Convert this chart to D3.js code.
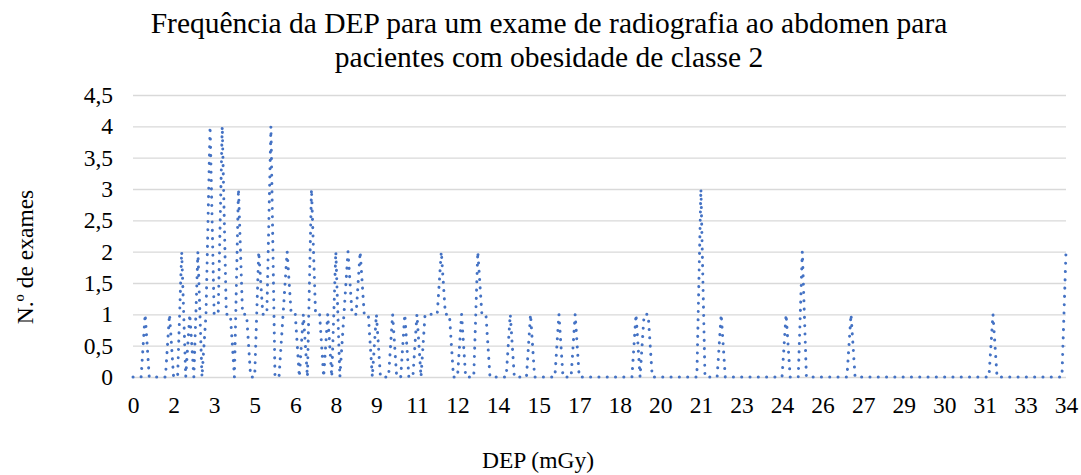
<!DOCTYPE html>
<html>
<head>
<meta charset="utf-8">
<script src="https://cdn.jsdelivr.net/npm/d3@7"></script>
<style>
body { margin: 0; background: #fff; }
text { font-family: "Liberation Serif", "Times New Roman", serif; fill: #000; }
</style>
</head>
<body>
<div id="chartDiv"></div>
<script>
// frequency (N.º de exames) per DEP category
const counts = [
  0,0,0,1,0,0,0,0,0,1, 0,0,2,0,1,0,2,0,1,4,
  1,1,4,1,1,0,3,1,1,0, 0,2,1,1,4,0,0,1,2,1,
  1,0,1,0,3,1,1,0,1,0, 2,0,1,2,1,1,2,1,1,0,
  1,0,0,0,1,0,0,1,0,0, 1,0,1,1,1,1,2,1,1,0,
  0,1,0,0,0,2,1,1,0,0, 0,0,0,1,0,0,0,0,1,0,
  0,0,0,0,0,1,0,0,0,1, 0,0,0,0,0,0,0,0,0,0,
  0,0,0,0,1,0,1,1,0,0, 0,0,0,0,0,0,0,0,0,0,
  3,0,0,0,0,1,0,0,0,0, 0,0,0,0,0,0,0,0,0,0,
  0,1,0,0,0,2,0,0,0,0, 0,0,0,0,0,0,0,1,0,0,
  0,0,0,0,0,0,0,0,0,0, 0,0,0,0,0,0,0,0,0,0,
  0,0,0,0,0,0,0,0,0,0, 0,0,1,0,0,0,0,0,0,0,
  0,0,0,0,0,0,0,0,0,0, 2
];
// category labels shown (every 10th category)
const tickLabels = ["0","2","3","5","6","8","9","11","12","14","15","17",
                    "18","20","21","23","24","26","27","29","30","31","33","34"];
const labelEvery = 10;
const yTicks = [0, 0.5, 1, 1.5, 2, 2.5, 3, 3.5, 4, 4.5];

const titleLines = ["Frequência da DEP para um exame de radiografia ao abdomen para",
                    "pacientes com obesidade de classe 2"];

const W = 1081, H = 475;
const plot = { left: 133, right: 1066, top: 95, bottom: 377 };
const fontSize = '23.5px';

const svg = d3.select('#chartDiv').append('svg')
    .attr('width', W)
    .attr('height', H);

const x = d3.scaleLinear().domain([0, counts.length - 1]).range([plot.left, plot.right]);
const y = d3.scaleLinear().domain([0, 4.5]).range([plot.bottom, plot.top]);

// gridlines + y labels
const yAxis = d3.axisLeft(y)
    .tickValues(yTicks)
    .tickSize(-(plot.right - plot.left))
    .tickPadding(20)
    .tickFormat(d => String(d).replace('.', ','));

const gy = svg.append('g')
    .attr('transform', `translate(${plot.left},0)`)
    .call(yAxis);
gy.select('.domain').remove();
gy.selectAll('line').attr('stroke', '#d9d9d9').attr('stroke-width', 1.3);
gy.selectAll('text').style('font-size', fontSize);

// category axis
const xAxis = d3.axisBottom(x)
    .tickValues(d3.range(0, counts.length, labelEvery))
    .tickSize(0)
    .tickPadding(20)
    .tickFormat((d, i) => tickLabels[i]);

const gx = svg.append('g')
    .attr('transform', `translate(0,${plot.bottom})`)
    .call(xAxis);
gx.select('.domain').remove();
gx.selectAll('text')
    .attr('dy', null)
    .attr('y', 36)
    .style('font-size', fontSize);

// dotted series line
const line = d3.line()
    .x((d, i) => x(i))
    .y(d => y(d));

svg.append('path')
    .datum(counts)
    .attr('d', line)
    .attr('fill', 'none')
    .attr('stroke', '#4472c4')
    .attr('stroke-width', 3)
    .attr('stroke-linecap', 'round')
    .attr('stroke-linejoin', 'round')
    .attr('stroke-dasharray', '0.1 8.2');

// title
svg.append('text')
    .attr('text-anchor', 'middle')
    .style('font-size', '29.5px')
    .selectAll('tspan')
    .data(titleLines)
    .enter().append('tspan')
        .attr('x', 549)
        .attr('y', (d, i) => 33 + i * 34)
        .text(d => d);

// axis titles
svg.append('text')
    .attr('text-anchor', 'middle')
    .attr('x', 538)
    .attr('y', 468)
    .style('font-size', fontSize)
    .text('DEP (mGy)');

svg.append('text')
    .attr('text-anchor', 'middle')
    .attr('transform', 'translate(33,257) rotate(-90)')
    .style('font-size', fontSize)
    .text('N.º de exames');
</script>
</body>
</html>
